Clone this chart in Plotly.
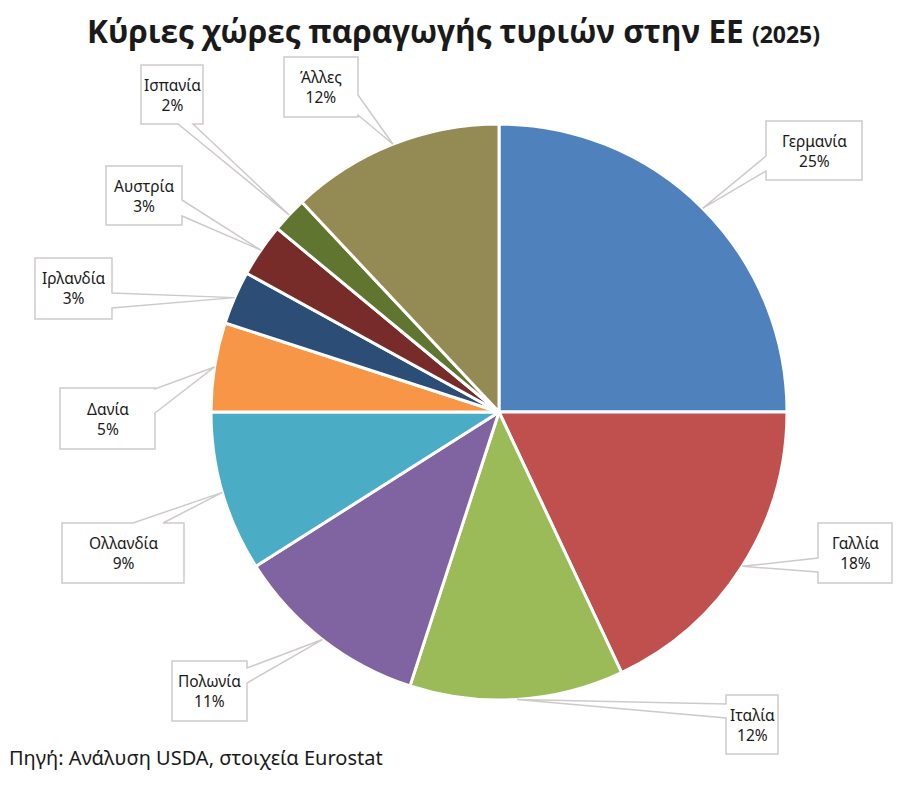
import plotly.graph_objects as go
import math

# ---------------- data ----------------
labels = ["Γερμανία", "Γαλλία", "Ιταλία", "Πολωνία", "Ολλανδία",
          "Δανία", "Ιρλανδία", "Αυστρία", "Ισπανία", "Άλλες"]
values = [25, 18, 12, 11, 9, 5, 3, 3, 2, 12]
colors = ["#4F81BD", "#C0504D", "#9BBB59", "#8064A2", "#4BACC6",
          "#F79646", "#2C4D75", "#772C2A", "#5F7530", "#948A54"]

title_main = "Κύριες χώρες παραγωγής τυριών στην ΕΕ"
title_year = "(2025)"
source_text = "Πηγή: Ανάλυση USDA, στοιχεία Eurostat"

# ---------------- layout (pixels, screen coordinates) ----------------
W, H = 915, 786
OFF = 8  # page margin offset of the rendered figure
CX, CY, R = 499, 412, 288

# callout boxes: (x0, y0, x1, y1, side, base_a, base_b)
boxes = [
    (766, 121, 862, 180, "left", 156, 171),
    (818, 523, 892, 583, "left", 558, 572),
    (726, 695, 778, 754, "left", 704, 718),
    (172, 661, 247, 721, "right", 668, 683),
    (62, 523, 184, 583, "top", 133, 163),
    (60, 388, 155, 449, "right", 389, 413),
    (35, 258, 112, 319, "right", 293, 308),
    (106, 166, 182, 225, "right", 200, 216),
    (141, 65, 203, 124, "bottom", 178, 193),
    (284, 57, 358, 117, "right", 95, 115),
]


def px(x):
    return (x - OFF) / W


def py(y):
    return 1 - (y - OFF) / H


fig = go.Figure()
fig.add_trace(go.Pie(
    labels=labels, values=values, sort=False, direction="clockwise",
    rotation=0, marker=dict(colors=colors, line=dict(color="white", width=3)),
    textinfo="none", hoverinfo="label+percent",
    domain=dict(x=[px(CX - R), px(CX + R)], y=[py(CY + R), py(CY - R)]),
    showlegend=False,
))

total = sum(values)
cum = 0
shapes = []
annotations = []
for lab, v, b in zip(labels, values, boxes):
    mid = (cum + v / 2) / total
    cum += v
    ang = 2 * math.pi * mid
    tx = CX + R * math.sin(ang)
    ty = CY - R * math.cos(ang)
    x0, y0, x1, y1, side, a, bb = b
    tip = (tx, ty)
    if side == "left":
        pts = [(x0, y0), (x1, y0), (x1, y1), (x0, y1), (x0, bb), tip, (x0, a)]
    elif side == "right":
        pts = [(x0, y0), (x1, y0), (x1, a), tip, (x1, bb), (x1, y1), (x0, y1)]
    elif side == "top":
        pts = [(x0, y0), (a, y0), tip, (bb, y0), (x1, y0), (x1, y1), (x0, y1)]
    else:
        pts = [(x0, y0), (x1, y0), (x1, y1), (bb, y1), tip, (a, y1), (x0, y1)]
    path = "M " + " L ".join(f"{px(x):.5f},{py(y):.5f}" for x, y in pts) + " Z"
    shapes.append(dict(type="path", xref="paper", yref="paper", path=path,
                       fillcolor="white", line=dict(color="#CFCACA", width=1.5),
                       layer="above"))
    pct = round(100 * v / total)
    annotations.append(dict(
        x=px((x0 + x1) / 2), y=py((y0 + y1) / 2), xref="paper", yref="paper",
        text=f"{lab}<br>{pct}%", showarrow=False, xanchor="center", yanchor="middle",
        font=dict(family="Noto Sans", size=15.5, color="#1a1a1a"), align="center"))

annotations.append(dict(
    x=px(453), y=1.0, xref="paper", yref="paper", showarrow=False,
    xanchor="center", yanchor="top", borderpad=0,
    text=f"<b>{title_main}</b> <b><span style='font-size:23px'>{title_year}</span></b>",
    font=dict(family="Open Sans", size=31.5, color="#1a1a1a")))

annotations.append(dict(
    x=px(7), y=py(757), xref="paper", yref="paper", showarrow=False,
    xanchor="left", yanchor="middle", text=source_text,
    font=dict(family="Noto Sans", size=20, color="#1a1a1a")))

fig.update_layout(
    width=W, height=H, margin=dict(l=0, r=0, t=0, b=0),
    paper_bgcolor="white", plot_bgcolor="white",
    shapes=shapes, annotations=annotations,
)

fig.write_html("out.html")
